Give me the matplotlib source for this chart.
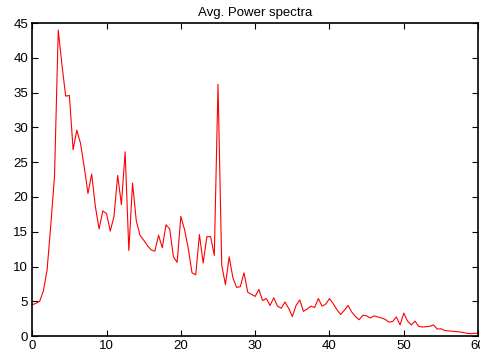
import matplotlib

matplotlib.use("Agg")
import matplotlib.pyplot as plt
import numpy as np

# averaged power spectrum, sampled every 0.5 Hz from 0 to 60
power = [
    4.5, 4.7, 5.0, 6.5, 9.5, 16.0, 23.0, 44.0, 39.0, 34.5,
    34.6, 26.8, 29.6, 27.7, 24.3, 20.5, 23.3, 18.6, 15.4, 18.0,
    17.6, 15.1, 17.2, 23.1, 18.9, 26.5, 12.3, 22.0, 16.6, 14.5,
    13.8, 13.0, 12.4, 12.2, 14.5, 12.7, 16.0, 15.4, 11.4, 10.6,
    17.2, 15.3, 12.6, 9.1, 8.8, 14.6, 10.5, 14.3, 14.3, 11.6,
    36.2, 10.2, 7.4, 11.4, 8.4, 7.0, 7.1, 9.1, 6.3, 6.0,
    5.7, 6.7, 5.1, 5.4, 4.4, 5.5, 4.3, 4.0, 4.9, 4.0,
    2.8, 4.4, 5.2, 3.55, 3.9, 4.3, 4.1, 5.4, 4.3, 4.6,
    5.4, 4.65, 3.8, 3.1, 3.7, 4.4, 3.45, 2.8, 2.35, 3.0,
    2.9, 2.6, 2.9, 2.75, 2.6, 2.4, 2.0, 2.1, 2.75, 1.6,
    3.3, 2.15, 1.6, 2.15, 1.4, 1.3, 1.35, 1.4, 1.6, 1.0,
    1.05, 0.8, 0.75, 0.7, 0.65, 0.6, 0.5, 0.4, 0.35, 0.4,
    0.4,
]
freq_step = 0.5
freq = np.arange(len(power)) * freq_step

x_ticks = [0, 10, 20, 30, 40, 50, 60]
y_ticks = [0, 5, 10, 15, 20, 25, 30, 35, 40, 45]

plt.rcParams["font.family"] = ["Liberation Sans", "DejaVu Sans"]
plt.rcParams["font.size"] = 9.5

fig = plt.figure(figsize=(4.81, 3.56), dpi=100)
ax = fig.add_axes([0.067, 0.056, 0.927, 0.879])

ax.plot(freq, power, color="#ff0000", linewidth=0.8)

ax.set_xlim(0, 60)
ax.set_ylim(0, 45)
ax.set_xticks(x_ticks)
ax.set_yticks(y_ticks)
ax.tick_params(direction="in", length=4, width=0.8, top=True, right=True, pad=3)
for spine in ax.spines.values():
    spine.set_linewidth(1.2)

ax.set_title("Avg. Power spectra", fontsize=9.5, pad=5)

fig.savefig("out.png", dpi=100)
